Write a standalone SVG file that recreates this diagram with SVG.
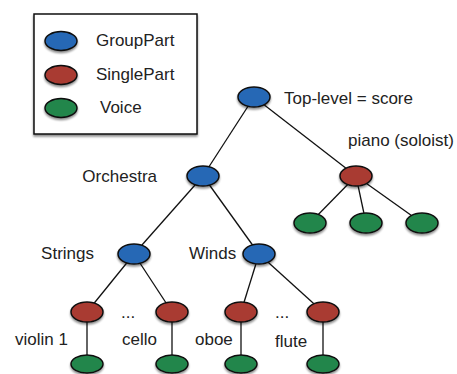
<svg xmlns="http://www.w3.org/2000/svg" width="457" height="374" viewBox="0 0 457 374">
<defs>
<filter id="sh" x="-30%" y="-30%" width="160%" height="170%">
<feGaussianBlur in="SourceAlpha" stdDeviation="1.2"/>
<feOffset dx="0" dy="1.5" result="b"/>
<feComponentTransfer><feFuncA type="linear" slope="0.45"/></feComponentTransfer>
<feMerge><feMergeNode/><feMergeNode in="SourceGraphic"/></feMerge>
</filter>
</defs>
<style>
.n{stroke:#111;stroke-width:1.5;filter:url(#sh)}
.g{fill:#2768b5}
.s{fill:#a93a32}
.v{fill:#24864b}
text{font-family:"Liberation Sans",Arial,sans-serif;font-size:17px;fill:#222}
.r{text-anchor:end}
.e{stroke:#111;stroke-width:1.3;fill:none}
</style>
<rect width="457" height="374" fill="#fff"/>
<g id="legend">
<rect x="34" y="14" width="163" height="120" fill="#fff" stroke="#111" stroke-width="1.5" filter="url(#sh)"/>
<ellipse class="n g" cx="61" cy="41" rx="16" ry="9.5"/>
<ellipse class="n s" cx="61" cy="75" rx="16" ry="9.5"/>
<ellipse class="n v" cx="61" cy="108" rx="16" ry="9.5"/>
<text x="96" y="46">GroupPart</text>
<text x="96" y="80">SinglePart</text>
<text x="100" y="113">Voice</text>
</g>
<g id="connectors">
<line class="e" x1="254" y1="97" x2="203" y2="176"/>
<line class="e" x1="254" y1="97" x2="356" y2="176"/>
<line class="e" x1="356" y1="176" x2="310" y2="223"/>
<line class="e" x1="356" y1="176" x2="366" y2="223"/>
<line class="e" x1="356" y1="176" x2="422" y2="223"/>
<line class="e" x1="203" y1="176" x2="134" y2="254"/>
<line class="e" x1="203" y1="176" x2="259" y2="254"/>
<line class="e" x1="134" y1="254" x2="87" y2="312"/>
<line class="e" x1="134" y1="254" x2="172" y2="312"/>
<line class="e" x1="259" y1="254" x2="241" y2="312"/>
<line class="e" x1="259" y1="254" x2="323" y2="312"/>
<line class="e" x1="87" y1="312" x2="87" y2="364"/>
<line class="e" x1="172" y1="312" x2="172" y2="364"/>
<line class="e" x1="241" y1="312" x2="241" y2="364"/>
<line class="e" x1="323" y1="312" x2="323" y2="364"/>
</g>
<g id="score"><ellipse class="n g" cx="254" cy="97" rx="16" ry="10"/><text x="284" y="104">Top-level = score</text></g>
<g id="piano"><ellipse class="n s" cx="356" cy="176" rx="16" ry="10"/><text x="348" y="146">piano (soloist)</text></g>
<g id="pv1"><ellipse class="n v" cx="310" cy="223" rx="16" ry="10"/></g>
<g id="pv2"><ellipse class="n v" cx="366" cy="223" rx="16" ry="10"/></g>
<g id="pv3"><ellipse class="n v" cx="422" cy="223" rx="16" ry="10"/></g>
<g id="orchestra"><ellipse class="n g" cx="203" cy="176" rx="16" ry="10"/><text class="r" x="157" y="182">Orchestra</text></g>
<g id="strings"><ellipse class="n g" cx="134" cy="254" rx="16" ry="10"/><text class="r" x="94" y="259">Strings</text></g>
<g id="winds"><ellipse class="n g" cx="259" cy="254" rx="16" ry="10"/><text x="189" y="259">Winds</text></g>
<g id="violin1"><ellipse class="n s" cx="87" cy="312" rx="16" ry="10"/><text x="15" y="345">violin 1</text></g>
<g id="dots1"><text x="121" y="318">...</text></g>
<g id="cello"><ellipse class="n s" cx="172" cy="312" rx="16" ry="10"/><text x="122" y="345">cello</text></g>
<g id="oboe"><ellipse class="n s" cx="241" cy="312" rx="16" ry="10"/><text x="195" y="345">oboe</text></g>
<g id="dots2"><text x="275" y="318">...</text></g>
<g id="flute"><ellipse class="n s" cx="323" cy="312" rx="16" ry="10"/><text x="275" y="347">flute</text></g>
<g id="v1"><ellipse class="n v" cx="87" cy="364" rx="16" ry="9"/></g>
<g id="v2"><ellipse class="n v" cx="172" cy="364" rx="16" ry="9"/></g>
<g id="v3"><ellipse class="n v" cx="241" cy="364" rx="16" ry="9"/></g>
<g id="v4"><ellipse class="n v" cx="323" cy="364" rx="16" ry="9"/></g>
</svg>
